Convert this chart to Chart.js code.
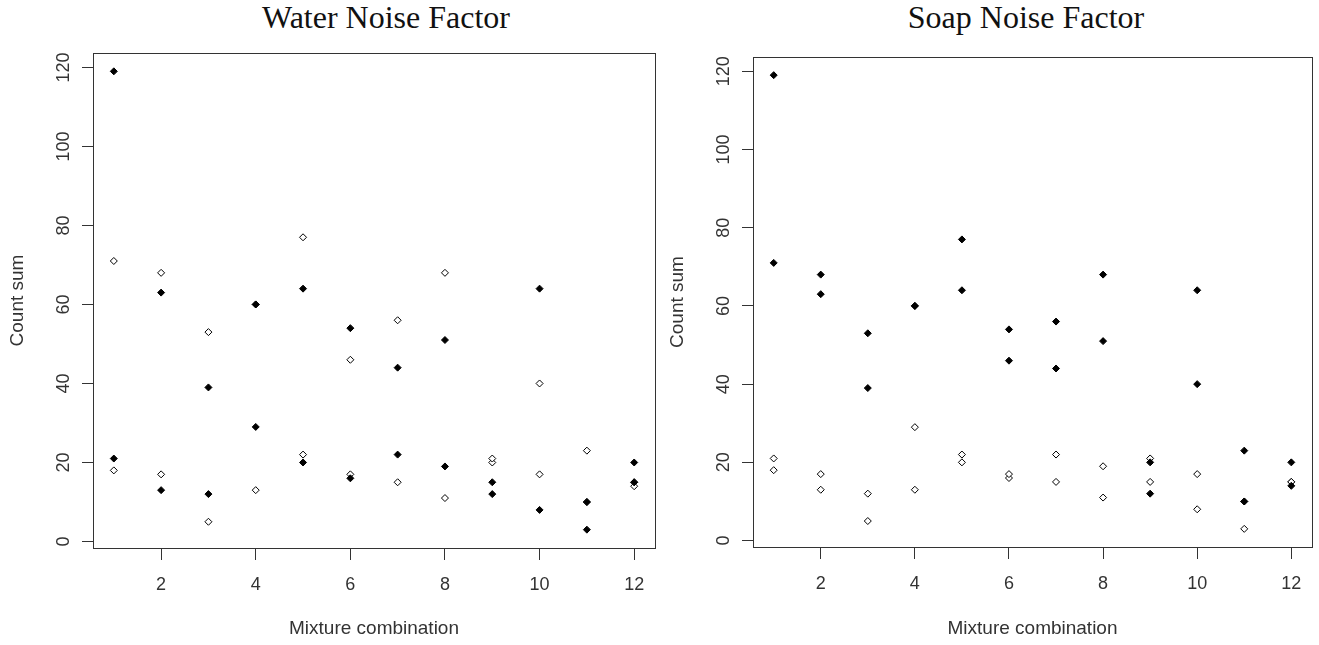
<!DOCTYPE html>
<html>
<head>
<meta charset="utf-8">
<script src="https://cdn.jsdelivr.net/npm/chart.js@4/dist/chart.umd.min.js"></script>
<style>
	html, body { margin: 0; padding: 0; background: #fff; }
	body { width: 1319px; height: 645px; position: relative; overflow: hidden; }
	canvas { position: absolute; top: 0; }
	#cWater { left: 0; }
	#cSoap { left: 660px; }
	.ttl { position: absolute; top: 1px; width: 400px; text-align: center; font: 32px 'Liberation Serif', 'Times New Roman', serif; line-height: 32px; color: #111; }
</style>
</head>
<body>
<div class="ttl" style="left:186px">Water Noise Factor</div>
<div class="ttl" style="left:826px">Soap Noise Factor</div>
<canvas id="cWater" width="660" height="645"></canvas>
<canvas id="cSoap" width="659" height="645"></canvas>
<script>
// mixture combination on x, four runs per mixture
const mixtures = [1, 2, 3, 4, 5, 6, 7, 8, 9, 10, 11, 12];
const runA = [119, 63, 39, 60, 64, 54, 44, 51, 12, 64, 10, 20];
const runB = [71, 68, 53, 60, 77, 46, 56, 68, 20, 40, 23, 14];
const runC = [21, 13, 12, 29, 20, 16, 22, 19, 15, 8, 3, 15];
const runD = [18, 17, 5, 13, 22, 17, 15, 11, 21, 17, 10, 15];

const xTicks = [2, 4, 6, 8, 10, 12];
const yTicks = [0, 20, 40, 60, 80, 100, 120];

const SANS = "'Liberation Sans', Arial, sans-serif";
const INK = '#333';

function pts(arr){ return arr.map((v, i) => ({ x: mixtures[i], y: v })); }

// R style range: data range plus 4% each side
function rRange(vals){
	const lo = Math.min(...vals), hi = Math.max(...vals);
	const pad = (hi - lo) * 0.04;
	return { min: lo - pad, max: hi + pad };
}

const xr = rRange(mixtures);
const yr = rRange([].concat(runA, runB, runC, runD));

const boxPlugin = {
	id: 'box',
	beforeDatasetsDraw(chart){
		const a = chart.chartArea;
		const ctx = chart.ctx;
		ctx.save();
		ctx.strokeStyle = INK;
		ctx.lineWidth = 1;
		const l = Math.round(a.left) + 0.5, t = Math.round(a.top) + 0.5;
		const r = Math.round(a.right) + 0.5, b = Math.round(a.bottom) + 0.5;
		ctx.strokeRect(l, t, r - l, b - t);
		ctx.restore();
	}
};

function makePanel(id, filled, open, lay){
	return new Chart(document.getElementById(id), {
		type: 'scatter',
		data: {
			datasets: [
				{ label: 'filled', data: filled, pointStyle: 'rectRot', pointRadius: 3.5, borderWidth: 1,
					backgroundColor: '#000', borderColor: '#000' },
				{ label: 'open', data: open, pointStyle: 'rectRot', pointRadius: 3.5, borderWidth: 1,
					backgroundColor: '#fff', borderColor: '#000' }
			]
		},
		options: {
			responsive: false,
			animation: false,
			events: [],
			layout: { padding: { top: lay.top, right: lay.right, bottom: 0, left: 0 } },
			plugins: { legend: { display: false }, tooltip: { enabled: false } },
			scales: {
				x: {
					type: 'linear', min: xr.min, max: xr.max,
					afterBuildTicks: s => { s.ticks = xTicks.map(v => ({ value: v })); },
					afterFit: s => { s.height = lay.xh; },
					border: { display: false },
					grid: { drawOnChartArea: false, drawTicks: true, tickLength: 12, color: INK },
					ticks: { autoSkip: false, padding: 14, color: INK, font: { family: SANS, size: 18 }, maxRotation: 0 },
					title: { display: true, text: 'Mixture combination', color: INK,
						font: { family: SANS, size: 19 }, padding: { top: 0, bottom: 5 } }
				},
				y: {
					type: 'linear', min: yr.min, max: yr.max,
					afterBuildTicks: s => { s.ticks = yTicks.map(v => ({ value: v })); },
					afterFit: s => { s.width = lay.yw; },
					border: { display: false },
					grid: { drawOnChartArea: false, drawTicks: true, tickLength: 11, color: INK },
					ticks: { autoSkip: false, padding: 3, color: INK, font: { family: SANS, size: 18 },
						minRotation: 90, maxRotation: 90, crossAlign: 'center' },
					title: { display: true, text: 'Count sum', color: INK,
						font: { family: SANS, size: 19 }, padding: { top: 6, bottom: 0 } }
				}
			}
		},
		plugins: [boxPlugin]
	});
}

window.addEventListener('DOMContentLoaded', ()=>{
	// water panel: A and C filled, B and D open
	makePanel('cWater', pts(runA).concat(pts(runC)), pts(runB).concat(pts(runD)),
		{ top: 53, right: 2, xh: 97, yw: 93 });
	// soap panel: A and B filled, C and D open
	makePanel('cSoap', pts(runA).concat(pts(runB)), pts(runC).concat(pts(runD)),
		{ top: 57, right: 7, xh: 98, yw: 93 });
});
</script>
</body>
</html>
